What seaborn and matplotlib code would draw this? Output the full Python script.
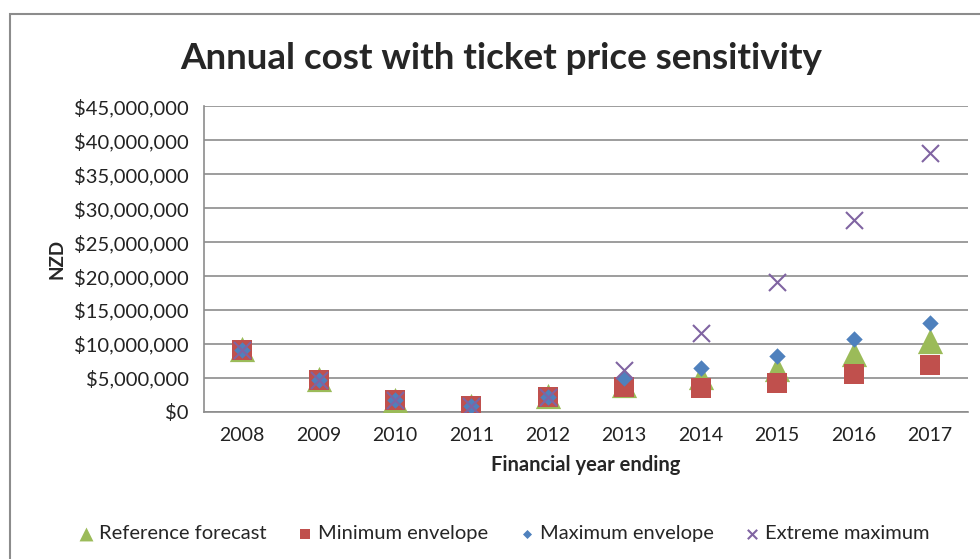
import matplotlib
matplotlib.use("Agg")
import matplotlib.pyplot as plt
import matplotlib.ticker as mticker
from matplotlib.patches import Rectangle
import seaborn as sns
import pandas as pd

years = ["2008", "2009", "2010", "2011", "2012", "2013", "2014", "2015", "2016", "2017"]
reference_forecast = [9.3, 4.8, 1.8, 0.9, 2.3, 3.9, 5.2, 6.3, 8.5, 10.4]
minimum_envelope = [9.1, 4.75, 1.8, 0.95, 2.2, 3.7, 3.5, 4.3, 5.6, 6.9]
maximum_envelope = [9.1, 4.75, 1.8, 0.95, 2.2, 5.0, 6.4, 8.3, 10.7, 13.1]
extreme_maximum = [9.1, 4.75, 1.8, 0.95, 2.2, 6.2, 11.6, 19.1, 28.3, 38.1]
series_names = ["Reference forecast", "Minimum envelope", "Maximum envelope", "Extreme maximum"]

rows = []
for name, vals in zip(series_names, [reference_forecast, minimum_envelope, maximum_envelope, extreme_maximum]):
    for i, (y, v) in enumerate(zip(years, vals)):
        rows.append({"pos": i, "year": y, "value": v * 1e6, "series": name})
df = pd.DataFrame(rows)

sns.set_theme(style="white")
plt.rcParams["font.family"] = ["Lato", "DejaVu Sans"]

fig = plt.figure(figsize=(9.8, 5.59), dpi=100)
ax = fig.add_axes([0.208, 0.263, 0.780, 0.547])

colors = {"Reference forecast": "#9BBB59", "Minimum envelope": "#C0504D",
          "Maximum envelope": "#4F81BD", "Extreme maximum": "#8064A2"}
markers = {"Reference forecast": "^", "Minimum envelope": "s",
           "Maximum envelope": "D", "Extreme maximum": "x"}
sizes = {"Reference forecast": 330, "Minimum envelope": 200,
         "Maximum envelope": 70, "Extreme maximum": 150}

for name in series_names:
    sub = df[df["series"] == name]
    sns.scatterplot(data=sub, x="pos", y="value", ax=ax, marker=markers[name],
                    color=colors[name], s=sizes[name], linewidth=1.5 if name == "Extreme maximum" else 0,
                    label=name, legend=False, zorder=3)

ax.set_xlim(-0.5, len(years) - 0.5)
ax.set_ylim(0, 45e6)
ax.yaxis.set_major_locator(mticker.MultipleLocator(5e6))
ax.yaxis.set_major_formatter(mticker.FuncFormatter(lambda v, p: "${:,.0f}".format(v)))
ax.set_xticks(range(len(years)))
ax.set_xticklabels(years)
ax.set_xticks([i - 0.5 for i in range(len(years) + 1)], minor=True)
ax.tick_params(axis="x", which="major", length=0, labelsize=14, pad=11, colors="#222222")
ax.tick_params(axis="x", which="minor", length=6, width=1, color="#888888", direction="out")
ax.tick_params(axis="y", which="major", length=6, width=1, color="#888888", direction="out",
               labelsize=14.5, colors="#222222", pad=5)
ax.grid(axis="y", color="#8c8c8c", linewidth=1.2)
ax.set_axisbelow(True)
for s in ["top", "right"]:
    ax.spines[s].set_visible(False)
for s in ["left", "bottom"]:
    ax.spines[s].set_color("#8c8c8c")
    ax.spines[s].set_linewidth(1.2)

ax.set_xlabel("Financial year ending", fontsize=14.5, fontweight="bold", labelpad=8)
ax.set_ylabel("NZD", fontsize=13.5, fontweight="bold", labelpad=6)
fig.text(0.511, 0.895, "Annual cost with ticket price sensitivity", ha="center", va="center",
         fontsize=26.5, fontweight="bold")

handles, labels = ax.get_legend_handles_labels()
fig.legend(handles, labels, loc="center", bbox_to_anchor=(0.514, 0.045), ncol=4, frameon=False,
           fontsize=14.5, handletextpad=0.25, handlelength=0.8, columnspacing=1.5, markerscale=0.55)

fig.patches.append(Rectangle((0.0102, -0.05), 1.2, 1.025, transform=fig.transFigure,
                             fill=False, edgecolor="#8c8c8c", linewidth=1.5))

fig.savefig("out.png", dpi=100)
